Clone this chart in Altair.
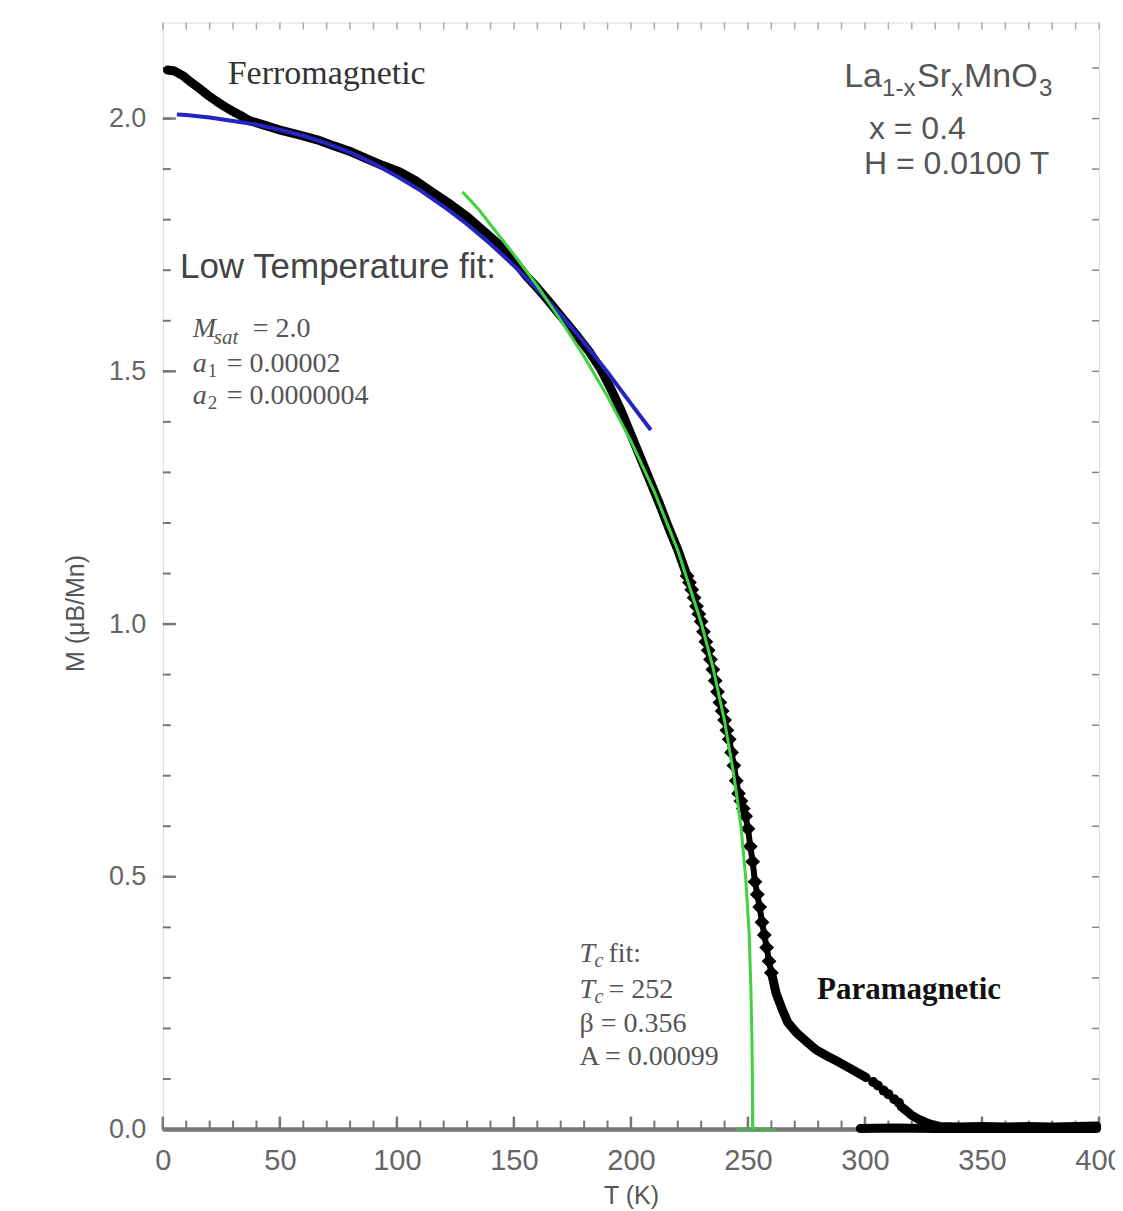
import altair as alt
import pandas as pd

W, H = 937, 1108

# ---------------- data ----------------
# black measured data, continuous low-T part
blk_a_T = [2, 5, 8.5, 12, 15.8, 19, 23, 27, 30, 34, 37, 44, 51, 58, 66, 73, 80, 87, 94, 101,
           108, 115, 122, 130, 137, 144, 150, 155, 160, 165, 171, 177, 182, 187, 192, 196,
           200, 204, 208, 212, 216, 220, 224]
blk_a_M = [2.096, 2.094, 2.085, 2.072, 2.059, 2.047, 2.034, 2.022, 2.014, 2.004, 1.996, 1.986,
           1.976, 1.968, 1.958, 1.946, 1.935, 1.921, 1.907, 1.895, 1.877, 1.855, 1.833, 1.806,
           1.778, 1.749, 1.72, 1.69, 1.665, 1.638, 1.604, 1.57, 1.54, 1.505, 1.46, 1.42,
           1.375, 1.33, 1.285, 1.24, 1.192, 1.147, 1.095]
# black data, individual diamonds near the transition
blk_d_T = [224, 225, 226, 227, 228, 229, 230, 231, 232, 233, 234, 235, 236, 237, 238, 239, 240,
           241, 242, 243, 244, 245, 246, 247, 248, 249, 250, 251, 252, 253, 254, 255, 256, 257,
           258, 259, 260]
blk_d_M = [1.095, 1.082, 1.068, 1.052, 1.035, 1.02, 1.005, 0.985, 0.965, 0.948, 0.93, 0.91,
           0.888, 0.866, 0.845, 0.828, 0.81, 0.79, 0.772, 0.746, 0.72, 0.69, 0.665, 0.65, 0.635,
           0.62, 0.595, 0.56, 0.53, 0.49, 0.465, 0.44, 0.41, 0.385, 0.36, 0.333, 0.31]
# black data, paramagnetic tail
blk_p_T = [260.4, 262, 264.6, 267, 270.6, 275, 279, 284, 289, 294, 300.5]
blk_p_M = [0.303, 0.27, 0.238, 0.212, 0.192, 0.174, 0.158, 0.145, 0.133, 0.12, 0.103]
blk_g_T = [303.5, 305.5, 308, 310, 312.5, 314.5]
blk_g_M = [0.094, 0.087, 0.077, 0.07, 0.06, 0.053]
blk_t_T = [315.5, 317.5, 320, 323, 326, 329, 332, 340, 350, 360, 370, 380, 390, 399]
blk_t_M = [0.045, 0.038, 0.028, 0.02, 0.014, 0.009, 0.006, 0.005, 0.006, 0.005, 0.006, 0.005,
           0.006, 0.007]
blk_b_T = [298, 312, 330, 360, 399]
blk_b_M = [0.002, 0.003, 0.002, 0.002, 0.002]

# blue: low temperature fit
blue_T = [6, 10, 20, 30, 40, 50, 60, 70, 80, 90, 100, 110, 120, 130, 140, 150, 160, 170, 180,
          190, 200, 208.5]
blue_M = [2.008, 2.007, 2.002, 1.995, 1.988, 1.978, 1.966, 1.951, 1.933, 1.911, 1.886, 1.858,
          1.826, 1.791, 1.752, 1.709, 1.662, 1.612, 1.557, 1.498, 1.436, 1.384]

# green: Tc power-law fit
green_T = [128, 135, 140, 150, 160, 170, 180, 190, 200, 210, 220, 230, 235, 240, 244, 247, 249,
           250.5, 251.3, 251.7, 251.9, 252]
green_M = [1.855, 1.82, 1.79, 1.731, 1.669, 1.601, 1.529, 1.45, 1.362, 1.262, 1.146, 1.003,
           0.915, 0.808, 0.70, 0.6, 0.5, 0.39, 0.27, 0.18, 0.1, 0.0]

x_labels = [0, 50, 100, 150, 200, 250, 300, 350, 400]
y_labels = [0.0, 0.5, 1.0, 1.5, 2.0]
x_ticks = list(range(0, 401, 10))
y_ticks = [round(i * 0.1, 1) for i in range(22)]
tc_value = 252

# ---------------- scales / axes ----------------
xs = alt.Scale(domain=[0, 400], nice=False, zero=False)
ys = alt.Scale(domain=[0, 2.19], nice=False, zero=False)
X_AX = alt.Axis(values=x_labels, ticks=False, domain=False, grid=False, labelFontSize=29,
                labelColor="#666", labelFont="Liberation Sans", labelPadding=17,
                labelFlush=False, title="T (K)", titleFontSize=25, titleFont="Liberation Sans",
                titleFontWeight="normal", titleColor="#555", titlePadding=8)
Y_AX = alt.Axis(values=y_labels, format=".1f", ticks=False, domain=False, grid=False,
                labelFontSize=27, labelColor="#666", labelFont="Liberation Sans",
                labelPadding=17, title="M (μB/Mn)", titleFontSize=25,
                titleFont="Liberation Sans", titleFontWeight="normal", titleColor="#555",
                titlePadding=20, titleY=591)
X = alt.X("T:Q", scale=xs, axis=X_AX)
Y = alt.Y("M:Q", scale=ys, axis=Y_AX)


def df(T, M, seg="a"):
    return pd.DataFrame({"T": T, "M": M, "seg": [seg] * len(T)})


layers = []

# inward ticks
xt = pd.DataFrame({"T": x_ticks})
xm = pd.DataFrame({"T": x_labels})
yt = pd.DataFrame({"M": y_ticks})
ym = pd.DataFrame({"M": y_labels})
layers.append(alt.Chart(xt).mark_rule(color="#777", strokeWidth=2).encode(
    x=X, y=alt.value(H), y2=alt.value(H - 9)))
layers.append(alt.Chart(xm).mark_rule(color="#777", strokeWidth=2.5).encode(
    x=X, y=alt.value(H), y2=alt.value(H - 13)))
layers.append(alt.Chart(xt).mark_rule(color="#aaa", strokeWidth=1.5).encode(
    x=X, y=alt.value(0), y2=alt.value(7)))
layers.append(alt.Chart(yt).mark_rule(color="#777", strokeWidth=2).encode(
    y=Y, x=alt.value(0), x2=alt.value(8)))
layers.append(alt.Chart(ym).mark_rule(color="#777", strokeWidth=2.5).encode(
    y=Y, x=alt.value(0), x2=alt.value(13)))
layers.append(alt.Chart(yt).mark_rule(color="#888", strokeWidth=1.5).encode(
    y=Y, x=alt.value(W), x2=alt.value(W - 7)))
# thick bottom axis line
layers.append(alt.Chart(pd.DataFrame({"T": [0, 400]})).mark_rule(color="#777", strokeWidth=4)
              .encode(x=alt.value(0), x2=alt.value(W), y=alt.value(H)))
# green portion of the baseline and spike at Tc
layers.append(alt.Chart(pd.DataFrame({"T": [245], "T2": [262], "M": [0]})).mark_rule(
    color="#5f9f5f", strokeWidth=4).encode(x=X, x2="T2:Q", y=Y))
layers.append(alt.Chart(pd.DataFrame({"T": [tc_value], "M": [0], "M2": [0.055]})).mark_rule(
    color="#4a9a4a", strokeWidth=3).encode(x=X, y=Y, y2="M2:Q"))

# black data
blk_lines = pd.concat([df(blk_a_T, blk_a_M, "a"), df(blk_p_T, blk_p_M, "p"),
                       df(blk_t_T, blk_t_M, "t"), df(blk_b_T, blk_b_M, "b")])
layers.append(alt.Chart(blk_lines).mark_line(color="black", strokeWidth=9, strokeCap="round",
                                             strokeJoin="round").encode(x=X, y=Y, detail="seg:N"))
layers.append(alt.Chart(df(blk_d_T, blk_d_M, "d")).mark_line(color="black", strokeWidth=6)
              .encode(x=X, y=Y))
layers.append(alt.Chart(df(blk_d_T, blk_d_M, "d")).mark_point(
    shape="square", angle=45, filled=True, size=110, color="black", opacity=1)
    .encode(x=X, y=Y))
layers.append(alt.Chart(df(blk_g_T, blk_g_M, "g")).mark_point(
    shape="circle", filled=True, size=100, color="black", opacity=1).encode(x=X, y=Y))

# fits
layers.append(alt.Chart(df(blue_T, blue_M)).mark_line(color="#2424c0", strokeWidth=4)
              .encode(x=X, y=Y))
layers.append(alt.Chart(df(green_T, green_M)).mark_line(color="#3fd43f", strokeWidth=3)
              .encode(x=X, y=Y))


def txt(s, T, M, size, font="Liberation Serif", color="#555", style="normal",
        weight="normal", dx=0, dy=0):
    d = pd.DataFrame({"T": [T], "M": [M], "s": [s]})
    return alt.Chart(d).mark_text(align="left", baseline="middle", font=font, fontSize=size,
                                  fontStyle=style, fontWeight=weight, color=color, dx=dx,
                                  dy=dy).encode(x=X, y=Y, text="s:N")


SANS = "Liberation Sans"
# annotations
layers += [
    txt("Ferromagnetic", 27.7, 2.089, 34, color="#333"),
    txt("Paramagnetic", 279.5, 0.277, 31, color="#111", weight="bold"),
    txt("Low Temperature fit:", 7.3, 1.707, 35, font=SANS, color="#444"),
    # M_sat, a1, a2
    txt("M", 12.8, 1.584, 28, style="italic"),
    txt("sat", 12.8, 1.584, 21, style="italic", dx=21, dy=9),
    txt("= 2.0", 12.8, 1.584, 28, dx=60),
    txt("a", 12.8, 1.515, 28, style="italic"),
    txt("1", 12.8, 1.515, 19, dx=15, dy=7),
    txt("= 0.00002", 12.8, 1.515, 28, dx=34),
    txt("a", 12.8, 1.451, 28, style="italic"),
    txt("2", 12.8, 1.451, 19, dx=15, dy=7),
    txt("= 0.0000004", 12.8, 1.451, 28, dx=34),
    # Tc fit block
    txt("T", 178, 0.347, 28, style="italic"),
    txt("c", 178, 0.347, 20, style="italic", dx=15, dy=7),
    txt("fit:", 178, 0.347, 28, dx=29),
    txt("T", 178, 0.277, 28, style="italic"),
    txt("c", 178, 0.277, 20, style="italic", dx=15, dy=7),
    txt("= 252", 178, 0.277, 28, dx=29),
    txt("β = 0.356", 178, 0.208, 28),
    txt("A = 0.00099", 178, 0.143, 28),
    # compound label
    txt("La", 291.1, 2.083, 34, font=SANS),
    txt("1-x", 291.1, 2.083, 24, font=SANS, dx=38, dy=12),
    txt("Sr", 291.1, 2.083, 34, font=SANS, dx=73),
    txt("x", 291.1, 2.083, 24, font=SANS, dx=107, dy=12),
    txt("MnO", 291.1, 2.083, 34, font=SANS, dx=120),
    txt("3", 291.1, 2.083, 24, font=SANS, dx=195, dy=12),
    txt("x = 0.4", 301.7, 1.98, 32, font=SANS),
    txt("H = 0.0100 T", 299.6, 1.911, 32, font=SANS),
]

chart = alt.layer(*layers).properties(
    width=W, height=H,
    autosize=alt.AutoSizeParams(type="none"),
    padding={"left": 155, "top": 14, "right": 16, "bottom": 80},
).configure_view(stroke="#666", strokeWidth=2.5).configure(background="white")

chart.save("out.html", embed_options={"renderer": "svg", "actions": False})
